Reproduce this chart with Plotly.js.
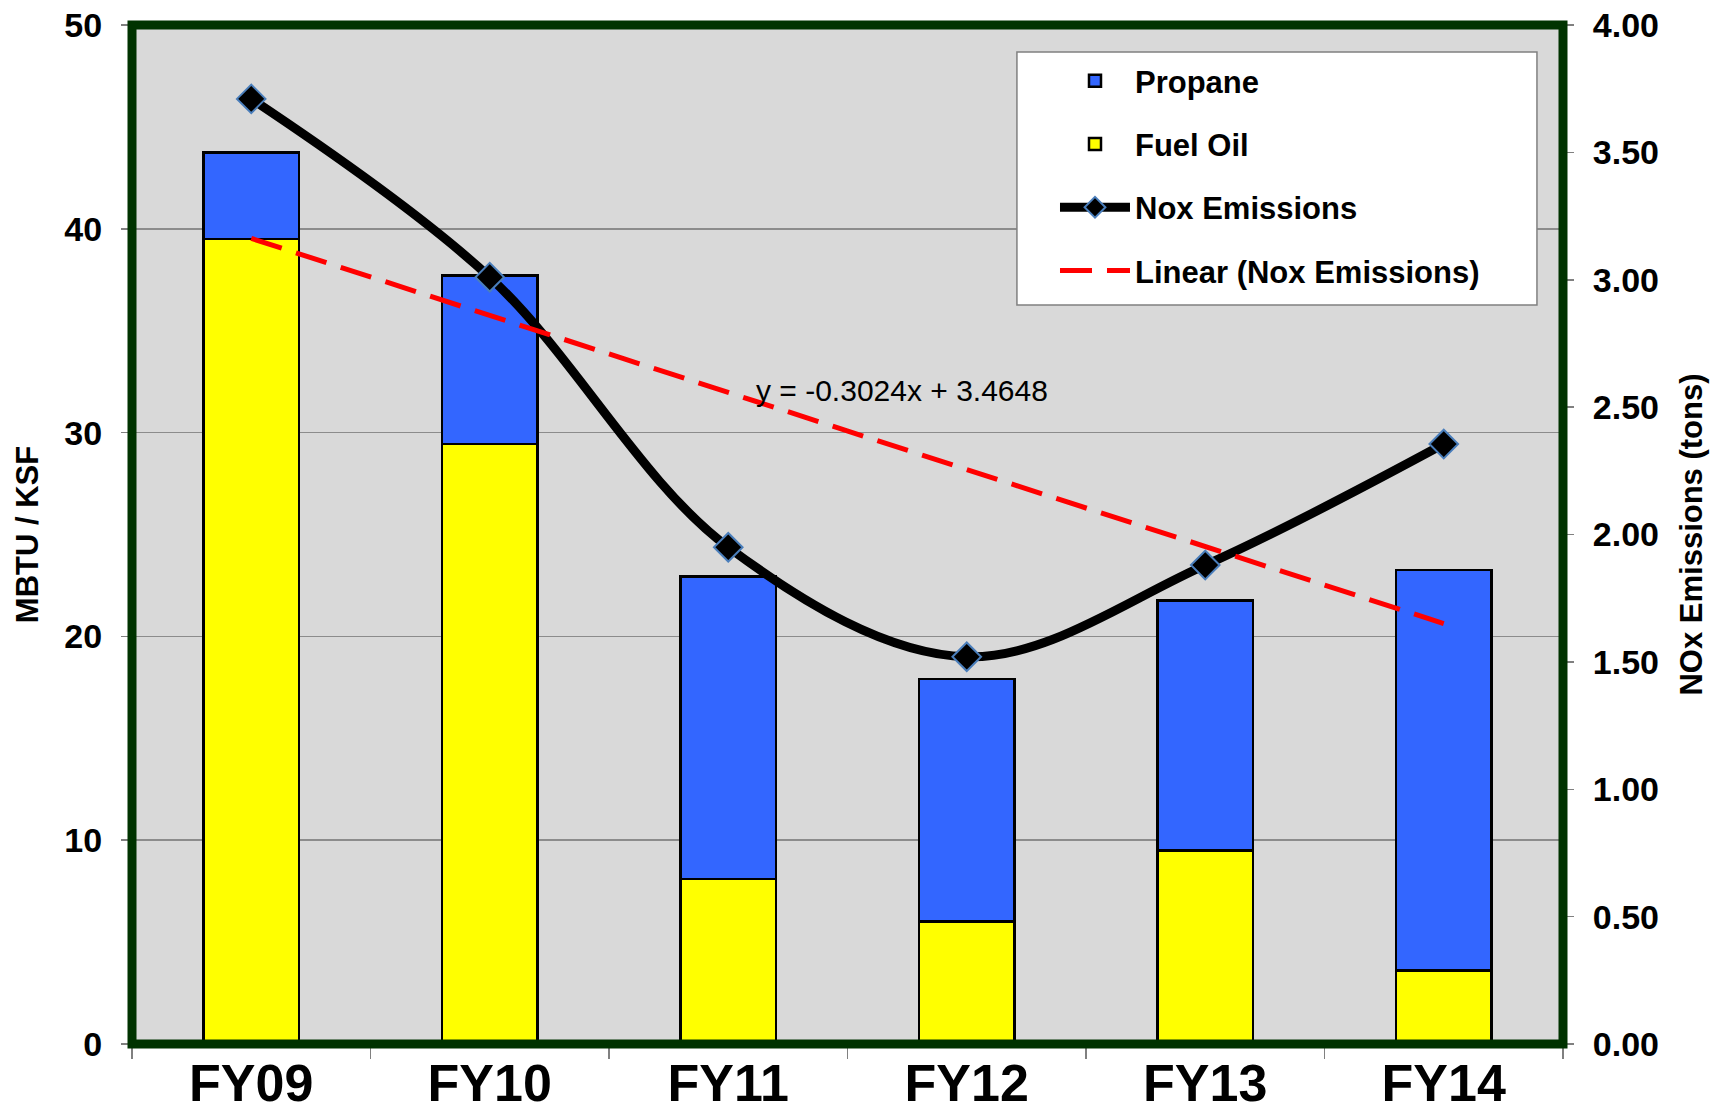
<!DOCTYPE html>
<html>
<head>
<meta charset="utf-8">
<script src="https://cdn.plot.ly/plotly-3.0.1.min.js"></script>
<style>
  html, body { margin: 0; padding: 0; background: #ffffff; }
  #chart { width: 1723px; height: 1119px; }
</style>
</head>
<body>
<div id="chart"></div>
<script>
// ---- data ----
const categories = ["FY09", "FY10", "FY11", "FY12", "FY13", "FY14"];
const fuelOil = [39.5, 29.45, 8.1, 6.0, 9.5, 3.6];        // MBTU / KSF
const propane = [4.25, 8.25, 14.85, 11.9, 12.25, 19.65];   // MBTU / KSF (stacked on fuel oil)
const noxEmissions = [3.71, 3.01, 1.95, 1.52, 1.88, 2.355]; // tons
// Excel linear trendline equation shown on the chart
const trendSlope = -0.3024;
const trendIntercept = 3.4648;
const trendLabel = "y = -0.3024x + 3.4648";
const leftTicks = [0, 10, 20, 30, 40, 50];
const rightTicks = [0, 0.5, 1, 1.5, 2, 2.5, 3, 3.5, 4];

// trendline evaluated at x = 1..n (Excel convention)
const trendValues = categories.map((c, i) => trendSlope * (i + 1) + trendIntercept);

const FONT = "Liberation Sans, Arial, sans-serif";

const traces = [
  {
    type: "bar", name: "Fuel Oil", x: categories, y: fuelOil,
    marker: { color: "#FFFF00", line: { color: "#000000", width: 2.5 } },
    legendgroup: "g2", legendrank: 2, hoverinfo: "y"
  },
  {
    type: "bar", name: "Propane", x: categories, y: propane,
    marker: { color: "#3366FF", line: { color: "#000000", width: 2.5 } },
    legendgroup: "g1", legendrank: 1, hoverinfo: "y"
  },
  {
    type: "scatter", mode: "lines+markers", name: "Nox Emissions",
    x: categories, y: noxEmissions, yaxis: "y2",
    line: { color: "#000000", width: 9, shape: "spline", smoothing: 1 },
    marker: { symbol: "diamond", size: 22, color: "#000000", line: { color: "#4A7EBB", width: 2 } },
    legendgroup: "g3", legendrank: 3
  },
  {
    type: "scatter", mode: "lines", name: "Linear (Nox Emissions)",
    x: categories, y: trendValues, yaxis: "y2",
    line: { color: "#FF0000", width: 5, dash: "32px,15px" },
    legendgroup: "g4", legendrank: 4
  }
];

const layout = {
  width: 1723, height: 1119,
  margin: { l: 132, r: 160, t: 25, b: 75 },
  paper_bgcolor: "#FFFFFF",
  plot_bgcolor: "#D9D9D9",
  barmode: "stack",
  bargap: 0.6,
  showlegend: true,
  font: { family: FONT, color: "#000000" },
  xaxis: {
    type: "category",
    tickson: "boundaries",
    ticks: "outside", ticklen: 14, tickwidth: 1.5, tickcolor: "#808080",
    ticklabelstandoff: 4,
    tickfont: { family: FONT, size: 52, color: "#000000", weight: "bold" },
    showgrid: false, zeroline: false, showline: false,
    fixedrange: true
  },
  yaxis: {
    range: [0, 50],
    tickvals: leftTicks,
    ticks: "outside", ticklen: 10, tickwidth: 1.5, tickcolor: "#808080",
    ticklabelstandoff: 12,
    tickfont: { family: FONT, size: 34, color: "#000000", weight: "bold" },
    showgrid: true, gridcolor: "#8C8C8C", gridwidth: 1.5,
    zeroline: false, showline: false,
    title: { text: "MBTU / KSF", font: { family: FONT, size: 31, color: "#000000", weight: "bold" }, standoff: 16 }
  },
  yaxis2: {
    overlaying: "y", side: "right",
    range: [0, 4],
    tickvals: rightTicks,
    tickformat: ".2f",
    ticks: "outside", ticklen: 10, tickwidth: 1.5, tickcolor: "#808080",
    ticklabelstandoff: 12,
    tickfont: { family: FONT, size: 34, color: "#000000", weight: "bold" },
    showgrid: false, zeroline: false, showline: false,
    title: { text: "NOx Emissions (tons)", font: { family: FONT, size: 31, color: "#000000", weight: "bold" }, standoff: 22 }
  },
  legend: {
    x: 0.645, y: 0.9715, xanchor: "left", yanchor: "top",
    bgcolor: "rgba(0,0,0,0)", borderwidth: 0,
    font: { family: FONT, size: 31, color: "#000000", weight: "bold" },
    traceorder: "grouped", tracegroupgap: 20,
    itemwidth: 70,
    itemclick: false, itemdoubleclick: false
  },
  annotations: [
    {
      xref: "paper", yref: "paper", x: 0.538, y: 0.641,
      xanchor: "center", yanchor: "middle",
      text: trendLabel, showarrow: false,
      font: { family: FONT, size: 30, color: "#000000" }
    }
  ],
  shapes: [
    {
      // legend box
      type: "rect", xref: "paper", yref: "paper", x0: 0.6184, x1: 0.9818, y0: 0.7252, y1: 0.9735,
      line: { color: "#808080", width: 1.5 }, fillcolor: "#FFFFFF", layer: "above"
    },
    {
      // plot frame
      type: "rect", xref: "paper", yref: "paper", x0: 0, x1: 1, y0: 0, y1: 1,
      line: { color: "#003300", width: 9 }, fillcolor: "rgba(0,0,0,0)", layer: "above"
    }
  ]
};

Plotly.newPlot("chart", traces, layout, { displayModeBar: false, staticPlot: true });
</script>
</body>
</html>
